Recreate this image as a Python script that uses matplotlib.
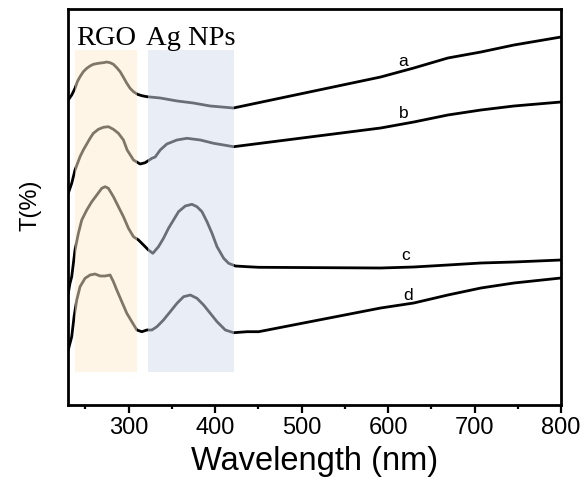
import matplotlib
matplotlib.use("Agg")
import matplotlib.pyplot as plt
from matplotlib.ticker import MultipleLocator

# ---- data (arbitrary transmittance units) ----
wl_a = [230.3, 234.3, 238.1, 240.8, 243.9, 247.7, 251.7, 255.5, 259.3, 265.1, 270.9, 274.8, 278.7,
        282.5, 286.4, 290.3, 294.1, 298.0, 301.8, 305.7, 310.3, 315.4, 321.2, 336.6, 356.3, 374.8,
        394.5, 421.2, 591.5, 629.8, 669.2, 707.4, 745.6, 800.0]
t_a = [305, 310, 316.7, 323.3, 328.3, 333.3, 336.7, 339, 340.7, 341.7, 342.3, 343, 342.3,
       340.7, 337.3, 333.3, 327.7, 321.7, 316.7, 313.3, 310.7, 309.3, 308.3, 307, 304, 302,
       299, 297, 328, 337, 347, 353, 360, 368]

wl_b = [230.3, 234.3, 238.1, 243.9, 247.7, 255.5, 259.3, 265.1, 270.9, 276.7, 282.5, 288.3, 294.1,
        298.4, 305.7, 313.4, 319.2, 327.0, 330.8, 336.6, 344.3, 355.9, 367.5, 383.0, 398.4, 421.5,
        591.5, 629.8, 669.2, 707.4, 745.6, 800.0]
t_b = [211.7, 221.7, 235, 248.3, 255, 266.7, 271.7, 275.7, 277.7, 278.3, 275.7, 271.7, 265,
       255, 245, 241, 242.3, 246.7, 248, 255, 261, 265, 266.7, 265, 261.7, 258.3,
       277, 283, 290, 295, 299, 303]

wl_c = [230.3, 232.3, 234.3, 238.1, 242.0, 245.9, 251.7, 257.5, 263.3, 269.0, 272.9, 276.7, 282.5,
        288.3, 294.1, 299.9, 305.7, 311.5, 317.3, 323.0, 328.1, 334.6, 340.4, 346.2, 352.0, 357.8,
        365.6, 373.3, 379.1, 384.9, 390.7, 396.5, 402.3, 410.0, 415.7, 423.5, 437.1, 450.5,
        591.5, 629.8, 669.2, 707.4, 745.6, 800.0]
t_c = [111.7, 121.7, 128.3, 155, 171.7, 185, 195, 203.3, 210, 216.7, 218.3, 216.7, 208.3,
       198.3, 188.3, 176.7, 168.3, 165, 160, 155, 151.7, 158.3, 166.7, 176.7, 185, 193.3,
       199, 200.7, 198.3, 193.3, 183.3, 171.7, 158.3, 146.7, 141.7, 139, 138.3, 137.7,
       137, 138, 140, 142, 143, 145]

wl_d = [230.3, 234.3, 237.0, 240.1, 243.9, 249.7, 255.5, 261.3, 267.1, 272.9, 278.7, 282.5, 286.4,
        292.2, 298.0, 303.8, 309.6, 315.4, 321.2, 327.0, 332.8, 340.4, 348.2, 356.0, 363.6, 371.4,
        379.1, 386.8, 394.5, 402.3, 411.9, 421.5, 437.1, 450.5,
        591.5, 629.8, 669.2, 707.4, 745.6, 800.0]
t_d = [55, 68.3, 88.3, 105, 118.3, 126.7, 130, 131, 129, 129, 130, 123.3, 115,
       103.3, 91.7, 83.3, 75, 73.3, 75, 75, 78.3, 85, 93.3, 101.7, 108.3, 110,
       106.7, 100, 91.7, 83.3, 75, 72.3, 73.3, 73.3,
       97, 102, 110, 117, 122, 127]

curve_labels = ["a", "b", "c", "d"]
label_pos = [(617, 344), (618, 292), (620, 150), (623, 110)]

bands = [("RGO", 238, 310, "#FFEDCE"), ("Ag NPs", 323, 422, "#D4DEEF")]
band_y = (33, 355)

x_ticks = [300, 400, 500, 600, 700, 800]

# ---- figure ----
fig = plt.figure(figsize=(5.86, 4.87), dpi=100)
ax = fig.add_axes([68 / 586, 1 - 405 / 487, (561 - 68) / 586, (405 - 9) / 487])

for wl, t in [(wl_a, t_a), (wl_b, t_b), (wl_c, t_c), (wl_d, t_d)]:
    ax.plot(wl, t, color="black", lw=2.0, zorder=2, solid_joinstyle="round")

for name, x0, x1, col in bands:
    ax.fill_between([x0, x1], band_y[0], band_y[1], color=col, alpha=0.5, lw=0, zorder=3)
    ax.text((x0 + x1) / 2, 360, name, ha="center", va="baseline",
            fontsize=20.5, family="Liberation Serif", zorder=4)

for lab, (x, y) in zip(curve_labels, label_pos):
    ax.text(x, y, lab, ha="center", va="center", fontsize=12.5,
            family="Liberation Sans", zorder=4)

ax.set_xlim(230, 800)
ax.set_ylim(0, 396)
ax.set_xticks(x_ticks)
ax.set_xticklabels([str(v) for v in x_ticks], family="Liberation Sans", fontsize=17)
ax.xaxis.set_minor_locator(MultipleLocator(50))
ax.set_yticks([])
ax.tick_params(axis="x", which="major", direction="out", length=6, width=1.6, pad=3)
ax.tick_params(axis="x", which="minor", direction="out", length=3, width=1.6)
for s in ax.spines.values():
    s.set_linewidth(2.0)

ax.set_xlabel("Wavelength (nm)", family="Liberation Sans", fontsize=23.5, labelpad=5)
fig.text(30 / 586, 1 - 205 / 487, "T(%)", rotation=90, ha="center", va="center",
         family="Liberation Sans", fontsize=17)

fig.savefig("out.png", dpi=100)
